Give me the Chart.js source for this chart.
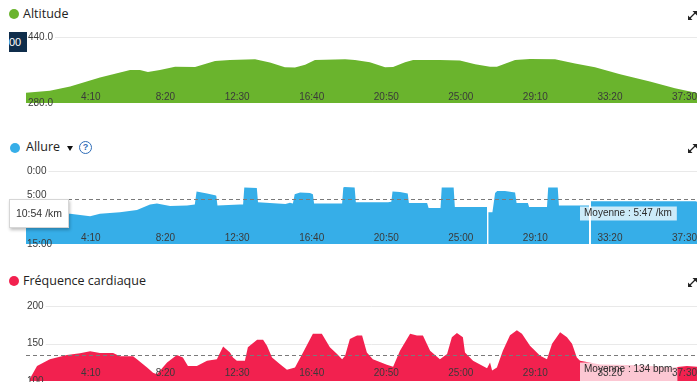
<!DOCTYPE html>
<html><head><meta charset="utf-8">
<script src="https://cdn.jsdelivr.net/npm/chart.js@4.4.1/dist/chart.umd.min.js"></script>
<style>
html,body{margin:0;padding:0;background:#fff}
body{width:700px;height:382px;overflow:hidden;position:relative;font-family:"Open Sans",sans-serif}
canvas{position:absolute;left:0}
.title{position:absolute;font-size:12.5px;line-height:20px;color:#222;white-space:nowrap}
.dot{position:absolute;width:10px;height:10px;border-radius:50%}
.tri{position:absolute;width:0;height:0;border-left:3px solid transparent;border-right:3px solid transparent;border-top:5px solid #111}
.help{position:absolute;width:11px;height:11px;border:1.5px solid #2f6db8;border-radius:50%;color:#2f6db8;font:bold 9px "Liberation Sans",Arial,sans-serif;text-align:center;line-height:11px}
.exp{position:absolute;width:9px;height:9px}
.darktip{position:absolute;left:9px;top:32px;width:18px;height:20px;background:#0f2d4b;color:#fff;font:11px "Liberation Sans",Arial,sans-serif;line-height:20px;overflow:hidden}
.whitetip{position:absolute;left:9px;top:199px;width:58px;height:27px;background:#fff;border:1px solid #d6d6d6;box-shadow:1px 2px 3px rgba(0,0,0,0.25);font:10.5px "Liberation Sans",Arial,sans-serif;color:#333;line-height:27px;text-align:center;white-space:nowrap}
</style>
</head><body>

<div class="dot" style="left:9px;top:9px;background:#6ab42d"></div>
<div class="title" style="left:23px;top:4px">Altitude</div>
<div class="dot" style="left:10px;top:143px;background:#36aee8"></div>
<div class="title" style="left:26px;top:137px">Allure</div>
<div class="tri" style="left:67px;top:146px"></div>
<div class="help" style="left:79px;top:141px">?</div>
<div class="dot" style="left:9px;top:276px;background:#f2214f"></div>
<div class="title" style="left:23px;top:271px">Fréquence cardiaque</div>

<canvas id="alt" width="700" height="82" style="top:25px;width:700px;height:82px"></canvas>
<canvas id="pace" width="700" height="90" style="top:160px;width:700px;height:90px"></canvas>
<canvas id="hr" width="700" height="87" style="top:295px;width:700px;height:87px"></canvas>

<svg class="exp" style="left:688px;top:11px" viewBox="0 0 9 9"><path d="M1 8 L8 1" stroke="#222" stroke-width="1.2"/><path d="M0 9 L0 4.5 L4.5 9Z M9 0 L9 4.5 L4.5 0Z" fill="#222"/></svg>
<svg class="exp" style="left:688px;top:144px" viewBox="0 0 9 9"><path d="M1 8 L8 1" stroke="#222" stroke-width="1.2"/><path d="M0 9 L0 4.5 L4.5 9Z M9 0 L9 4.5 L4.5 0Z" fill="#222"/></svg>
<svg class="exp" style="left:688px;top:278px" viewBox="0 0 9 9"><path d="M1 8 L8 1" stroke="#222" stroke-width="1.2"/><path d="M0 9 L0 4.5 L4.5 9Z M9 0 L9 4.5 L4.5 0Z" fill="#222"/></svg>

<div class="darktip">00</div>
<div class="whitetip">10:54 /km</div>

<script>
// ---- shared x axis (elapsed seconds) ----
const X_MAX = 2250;
const xTickValues = [250, 500, 750, 1000, 1250, 1500, 1750, 2000, 2250];
const xTickLabels = ['4:10', '8:20', '12:30', '16:40', '20:50', '25:00', '29:10', '33:20', '37:30'];

// ---- Altitude (m) ----
const altTimes  = [0, 80, 148, 248, 349, 382, 409, 449, 500, 567, 634, 684, 768, 818, 868, 902, 936, 969, 1070, 1103, 1153, 1204, 1231, 1271, 1298, 1388, 1455, 1506, 1556, 1579, 1640, 1690, 1774, 1841, 1908, 1992, 2092, 2176, 2250];
const altValues = [305, 310, 320, 342, 360, 360, 355, 360, 368, 367, 382, 384, 386, 378, 366.5, 366, 373, 384, 386, 384, 379, 366.5, 367, 379, 384, 384, 383, 374, 368, 368, 384, 386.7, 386, 376, 366.5, 350, 332, 316, 304];
const altTickValues = [440, 280];
const altTickLabels = ['440.0', '280.0'];

// ---- Allure (min/km) ----
const paceTimes  = [0, 47, 148, 215, 248, 315, 372, 416, 439, 483, 540, 566, 572, 607, 634, 638, 642, 717, 728, 732, 774, 778, 870, 885, 895, 901, 919, 952, 962, 966, 1060, 1064, 1068, 1102, 1106, 1214, 1225, 1229, 1254, 1280, 1284, 1345, 1350, 1390, 1394, 1434, 1438, 1546, 1548, 1550, 1564, 1573, 1580, 1606, 1640, 1645, 1683, 1687, 1747, 1751, 1783, 1787, 1888, 1891, 1894, 2245, 2250];
const paceValues = [8.6, 8.7, 8.8, 9.3, 8.8, 8.5, 8.0, 6.9, 6.7, 7.2, 7.1, 6.9, 4.2, 4.6, 5.0, 5.1, 7.1, 6.9, 6.9, 3.4, 3.5, 6.4, 6.8, 6.5, 6.7, 4.8, 4.4, 4.5, 4.8, 6.7, 6.7, 3.4, 3.3, 3.4, 6.4, 6.4, 6.3, 4.2, 4.3, 4.6, 6.6, 6.6, 7.6, 7.6, 3.4, 3.4, 7.4, 7.4, null, 8.5, 8.5, 4.5, 4.1, 4.1, 4.4, 6.6, 6.6, 7.4, 7.4, 3.4, 3.4, 7.1, 7.1, null, 6.2, 6.2, 6.3];
const paceTickValues = [0, 5, 10, 15];
const paceTickLabels = ['0:00', '5:00', '10:00', '15:00'];
const paceAverage = 5 + 47 / 60;
const paceAverageLabel = 'Moyenne : 5:47 /km';

// ---- Fréquence cardiaque (bpm) ----
const hrTimes  = [13, 37, 80, 137, 181, 215, 248, 292, 315, 359, 372, 406, 426, 439, 473, 506, 526, 543, 573, 607, 640, 661, 684, 694, 707, 734, 744, 775, 795, 808, 825, 852, 875, 902, 929, 962, 992, 1019, 1043, 1060, 1070, 1086, 1110, 1127, 1143, 1163, 1210, 1231, 1254, 1288, 1311, 1331, 1355, 1388, 1412, 1428, 1445, 1465, 1472, 1499, 1546, 1556, 1563, 1579, 1599, 1623, 1646, 1663, 1690, 1724, 1747, 1764, 1791, 1814, 1831, 1847, 1858, 1925, 2059, 2169, 2216, 2250];
const hrValues = [103, 120, 129, 134.6, 137, 139.6, 137.5, 137.5, 133, 133, 129, 118, 111, 109, 124.7, 134.7, 131.5, 120, 120, 127, 129, 146, 138, 131.5, 127, 127, 145, 155, 155, 147, 131.5, 122.5, 115, 118, 138, 163, 163, 145, 136, 129, 133.8, 156, 160.8, 160.8, 138, 129, 121.6, 119, 140.5, 163, 160.8, 160.8, 140.5, 129, 136, 158.5, 164, 158.5, 138, 127, 117, 124.7, 114, 118, 140.5, 161, 167.6, 163, 147, 133.8, 129, 149.6, 165, 158.5, 149.6, 131.5, 127, 122, 121, 118, 120, 119];
const hrTickValues = [200, 150, 100];
const hrTickLabels = ['200', '150', '100'];
const hrAverage = 134;
const hrAverageLabel = 'Moyenne : 134 bpm';

const TICK_FONT = '10px "Liberation Sans", Arial, sans-serif';

function overlay(cfg) {
  return {
    id: 'overlay_' + cfg.id,
    beforeDatasetsDraw(chart) {
      const ctx = chart.ctx, ca = chart.chartArea, y = chart.scales.y;
      ctx.save();
      ctx.font = TICK_FONT;
      ctx.strokeStyle = '#e9e9e9';
      ctx.lineWidth = 1;
      cfg.gridValues.forEach(v => {
        const i = cfg.yTicks.indexOf(v);
        const w = i >= 0 ? ctx.measureText(cfg.yLabels[i]).width : 0;
        const py = Math.round(y.getPixelForValue(v)) + 0.5;
        ctx.beginPath();
        ctx.moveTo(cfg.yLabelX + w + 2, py);
        ctx.lineTo(ca.right, py);
        ctx.stroke();
      });
      ctx.restore();
    },
    afterDatasetsDraw(chart) {
      const ctx = chart.ctx, ca = chart.chartArea, xs = chart.scales.x, y = chart.scales.y;
      ctx.save();
      ctx.font = TICK_FONT;
      let boxY = null;
      if (cfg.avg !== undefined) {
        const py = Math.round(y.getPixelForValue(cfg.avg)) + 0.5;
        ctx.strokeStyle = '#7a7a7a';
        ctx.lineWidth = 1;
        ctx.setLineDash([4, 3]);
        ctx.beginPath();
        ctx.moveTo(ca.left, py);
        ctx.lineTo(ca.right, py);
        ctx.stroke();
        ctx.setLineDash([]);
        boxY = py + 7;
        const tw = ctx.measureText(cfg.avgLabel).width;
        ctx.fillStyle = 'rgba(255,255,255,0.75)';
        ctx.fillRect(cfg.avgBoxX, boxY, tw + 9, cfg.avgBoxH);
      }
      // x tick labels
      ctx.fillStyle = '#3a3a3a';
      ctx.textAlign = 'right';
      ctx.textBaseline = 'middle';
      xTickValues.forEach((v, i) => {
        ctx.fillText(xTickLabels[i], xs.getPixelForValue(v), ca.bottom - cfg.xLabelOffset);
      });
      // y tick labels
      ctx.textAlign = 'left';
      cfg.yTicks.forEach((v, i) => {
        ctx.fillText(cfg.yLabels[i], cfg.yLabelX, y.getPixelForValue(v));
      });
      if (boxY !== null) {
        ctx.fillStyle = '#2a2a2a';
        ctx.fillText(cfg.avgLabel, cfg.avgBoxX + 4, boxY + 7);
      }
      ctx.restore();
    }
  };
}

function makeChart(cfg) {
  const points = cfg.times.map((t, i) => ({ x: t, y: cfg.values[i] }));
  new Chart(document.getElementById(cfg.id), {
    type: 'line',
    data: { datasets: [{
      data: points,
      borderWidth: 0,
      borderColor: cfg.color,
      backgroundColor: cfg.color,
      pointRadius: 0,
      tension: 0,
      spanGaps: false,
      fill: { value: cfg.fillTo }
    }] },
    options: {
      responsive: false,
      animation: false,
      events: [],
      layout: { padding: cfg.padding },
      plugins: { legend: { display: false }, tooltip: { enabled: false } },
      scales: {
        x: { type: 'linear', min: 0, max: X_MAX, display: false },
        y: { type: 'linear', min: cfg.min, max: cfg.max, reverse: !!cfg.reverse, display: false }
      }
    },
    plugins: [overlay(cfg)]
  });
}

makeChart({
  id: 'alt', times: altTimes, values: altValues, color: '#6ab42d',
  min: 280, max: 440, fillTo: 280,
  padding: { left: 26, right: 3, top: 12, bottom: 4 },
  yTicks: altTickValues, yLabels: altTickLabels, gridValues: [440],
  yLabelX: 28, xLabelOffset: 6
});

makeChart({
  id: 'pace', times: paceTimes, values: paceValues, color: '#36aee8',
  min: 0, max: 15, reverse: true, fillTo: 15,
  padding: { left: 26, right: 3, top: 11, bottom: 6 },
  yTicks: paceTickValues, yLabels: paceTickLabels, gridValues: [0],
  yLabelX: 27, xLabelOffset: 5.5,
  avg: paceAverage, avgLabel: paceAverageLabel, avgBoxX: 580, avgBoxH: 14
});

makeChart({
  id: 'hr', times: hrTimes, values: hrValues, color: '#f2214f',
  min: 100, max: 200, fillTo: 100,
  padding: { left: 26, right: 3, top: 11, bottom: 1 },
  yTicks: hrTickValues, yLabels: hrTickLabels, gridValues: [200, 150],
  yLabelX: 27, xLabelOffset: 8,
  avg: hrAverage, avgLabel: hrAverageLabel, avgBoxX: 580, avgBoxH: 22
});
</script>
</body></html>
